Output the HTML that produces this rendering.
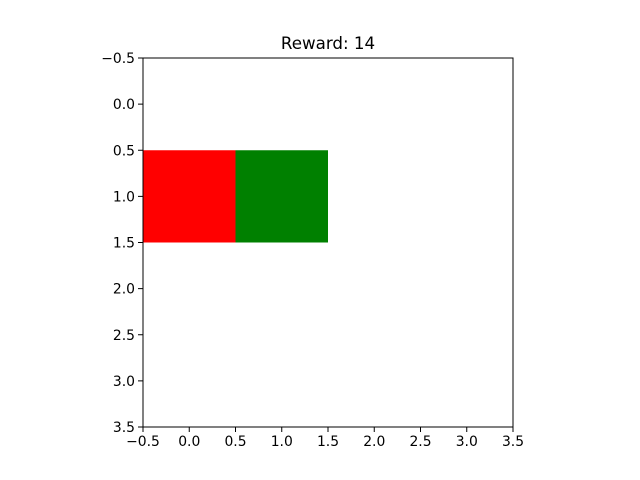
<!DOCTYPE html>
<html><head><meta charset="utf-8"><style>
html,body{margin:0;padding:0;background:#fff;}
svg{display:block;font-family:"DejaVu Sans","Liberation Sans",sans-serif;}
</style></head><body>
<svg id="chart" width="640" height="480" viewBox="0 0 640 480">
<rect width="640" height="480" fill="#fff"/>
<text x="328" y="49" text-anchor="middle" font-size="16.7" fill="#000">Reward: 14</text>
<g id="cells"></g>
<g id="ticks"></g>
<rect x="143" y="58" width="370" height="369" fill="none" stroke="#000" stroke-width="1"/>
</svg>
<script>
// grid cell values per row (0 = empty, 1 = agent/red, 2 = goal/green)
const row0 = [0, 0, 0, 0];
const row1 = [1, 2, 0, 0];
const row2 = [0, 0, 0, 0];
const row3 = [0, 0, 0, 0];
const gridRows = [row0, row1, row2, row3];
const xTickLabels = ["\u22120.5","0.0","0.5","1.0","1.5","2.0","2.5","3.0","3.5"];
const yTickLabels = ["\u22120.5","0.0","0.5","1.0","1.5","2.0","2.5","3.0","3.5"];
const tickValues = [-0.5,0,0.5,1,1.5,2,2.5,3,3.5];
const palette = ["#ffffff","#ff0000","#008000"];

const X0=143,X1=513,Y0=58,Y1=427;
const xs = v => X0 + (v+0.5)/4*(X1-X0);
const ys = v => Y0 + (v+0.5)/4*(Y1-Y0);
const NS="http://www.w3.org/2000/svg";
const cells=document.getElementById('cells');
gridRows.forEach((row,r)=>row.forEach((val,c)=>{
  const el=document.createElementNS(NS,'rect');
  el.setAttribute('x',xs(c-0.5));el.setAttribute('y',ys(r-0.5));
  el.setAttribute('width',xs(c+0.5)-xs(c-0.5));el.setAttribute('height',ys(r+0.5)-ys(r-0.5));
  el.setAttribute('fill',palette[val]);
  
  
  cells.appendChild(el);
}));
const ticks=document.getElementById('ticks');
tickValues.forEach((v,i)=>{
  const x=xs(v);
  const t=document.createElementNS(NS,'line');
  t.setAttribute('x1',x);t.setAttribute('x2',x);t.setAttribute('y1',Y1);t.setAttribute('y2',Y1+5);t.setAttribute('stroke','#000');
  
  
  ticks.appendChild(t);
  const l=document.createElementNS(NS,'text');
  l.setAttribute('x',x);l.setAttribute('y',Y1+19);l.setAttribute('text-anchor','middle');l.setAttribute('font-size','13.9');
  l.textContent=xTickLabels[i];
  
  
  ticks.appendChild(l);
  const y=ys(v);
  const ty=document.createElementNS(NS,'line');
  ty.setAttribute('x1',X0-5);ty.setAttribute('x2',X0);ty.setAttribute('y1',y);ty.setAttribute('y2',y);ty.setAttribute('stroke','#000');
  
  
  ticks.appendChild(ty);
  const ly=document.createElementNS(NS,'text');
  ly.setAttribute('x',X0-8);ly.setAttribute('y',y+5);ly.setAttribute('text-anchor','end');ly.setAttribute('font-size','13.9');
  ly.textContent=yTickLabels[i];
  
  
  ticks.appendChild(ly);
});
</script>
</body></html>
